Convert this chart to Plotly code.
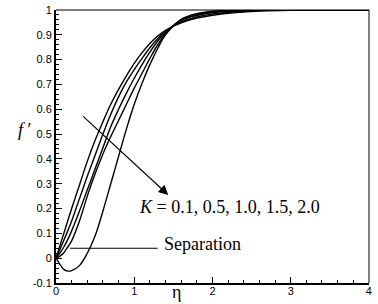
import plotly.graph_objects as go

eta = [0, 0.05, 0.1, 0.15, 0.2, 0.3, 0.4, 0.5, 0.6, 0.7, 0.8, 0.9, 1.0, 1.1, 1.2,
       1.3, 1.4, 1.6, 1.8, 2.0, 2.3, 2.6, 3.0, 4.0]
K_values = ["0.1", "0.5", "1.0", "1.5", "2.0"]
f_K01 = [0, 0.05, 0.1, 0.15, 0.2, 0.295, 0.39, 0.475, 0.55, 0.62, 0.68, 0.735, 0.785,
         0.828, 0.865, 0.895, 0.918, 0.948, 0.967, 0.979, 0.99, 0.996, 0.999, 1.0]
f_K05 = [0, 0.035, 0.072, 0.11, 0.15, 0.24, 0.33, 0.415, 0.5, 0.58, 0.65, 0.71, 0.76,
         0.805, 0.848, 0.885, 0.915, 0.952, 0.972, 0.984, 0.993, 0.998, 1.0, 1.0]
f_K10 = [0, 0.02, 0.045, 0.075, 0.11, 0.19, 0.275, 0.36, 0.445, 0.53, 0.6, 0.665, 0.725,
         0.78, 0.83, 0.875, 0.91, 0.958, 0.978, 0.99, 0.996, 0.999, 1.0, 1.0]
f_K15 = [0, 0.008, 0.022, 0.045, 0.07, 0.15, 0.25, 0.34, 0.42, 0.49, 0.555, 0.62, 0.685,
         0.745, 0.805, 0.86, 0.905, 0.96, 0.982, 0.993, 0.998, 1.0, 1.0, 1.0]
f_K20 = [0, -0.025, -0.045, -0.052, -0.05, -0.03, 0.02, 0.09, 0.19, 0.3, 0.41, 0.52, 0.62,
         0.705, 0.78, 0.845, 0.9, 0.962, 0.985, 0.995, 0.999, 1.0, 1.0, 1.0]
curves = [f_K01, f_K05, f_K10, f_K15, f_K20]

x_ticks = [0, 1, 2, 3, 4]
y_ticks = [-0.1, 0, 0.1, 0.2, 0.3, 0.4, 0.5, 0.6, 0.7, 0.8, 0.9, 1.0]
y_tick_labels = ["-0.1", "0", "0.1", "0.2", "0.3", "0.4", "0.5", "0.6", "0.7", "0.8", "0.9", "1"]

arrow_start = (0.328, 0.577)
arrow_end = (1.435, 0.255)
sep_line_x = [0.18, 1.30]
sep_line_y = 0.04

fig = go.Figure()
for k, f in zip(K_values, curves):
    fig.add_trace(go.Scatter(x=eta, y=f, mode="lines", name="K=" + k,
                             line=dict(color="black", width=1.4, shape="spline", smoothing=1.0),
                             showlegend=False, hoverinfo="skip"))

serif = "Liberation Serif, Times New Roman, serif"
sans = "Liberation Sans, Arial, sans-serif"

L, R, T, B = 56, 9, 10, 21
W, H = 378, 304

fig.update_layout(
    width=W, height=H,
    margin=dict(l=L, r=R, t=T, b=B, pad=0),
    paper_bgcolor="white", plot_bgcolor="white",
    xaxis=dict(range=[0, 4.001], tickvals=x_ticks, ticktext=[str(v) for v in x_ticks],
               ticks="inside", ticklen=6, tickwidth=1, tickcolor="black",
               showline=True, linewidth=2, linecolor="black", mirror=False,
               showgrid=False, zeroline=False, automargin=False,
               ticklabeloverflow="allow", ticklabelstandoff=-3,
               tickfont=dict(family=sans, size=11, color="black"),
               minor=dict(dtick=0.2, ticks="inside", ticklen=3, tickcolor="black", showgrid=False)),
    yaxis=dict(range=[-0.1, 1.0], tickvals=y_ticks, ticktext=y_tick_labels,
               ticks="inside", ticklen=6, tickwidth=1, tickcolor="black",
               showline=True, linewidth=2, linecolor="black", mirror=False,
               showgrid=False, zeroline=False, automargin=False,
               ticklabeloverflow="allow",
               tickfont=dict(family=sans, size=11, color="black"),
               minor=dict(dtick=0.02, ticks="inside", ticklen=3, tickcolor="black", showgrid=False)),
)

# top and right frame lines
fig.add_shape(type="line", xref="paper", yref="paper", x0=0, x1=1, y0=1, y1=1,
              line=dict(color="black", width=1))
fig.add_shape(type="line", xref="paper", yref="paper", x0=1, x1=1, y0=0, y1=1,
              line=dict(color="black", width=1))

# separation line
fig.add_shape(type="line", xref="x", yref="y", x0=sep_line_x[0], x1=sep_line_x[1],
              y0=sep_line_y, y1=sep_line_y, line=dict(color="black", width=1))

fig.add_annotation(x=arrow_end[0], y=arrow_end[1], ax=arrow_start[0], ay=arrow_start[1],
                   xref="x", yref="y", axref="x", ayref="y", text="", showarrow=True,
                   arrowhead=2, arrowsize=1.6, arrowwidth=1.2, arrowcolor="black")

fig.add_annotation(x=1.03, y=0.208, xref="x", yref="y", xanchor="left", yanchor="middle",
                   text="<i>K</i> = " + ", ".join(K_values), showarrow=False,
                   font=dict(family=serif, size=18, color="black"))
fig.add_annotation(x=1.35, y=sep_line_y + 0.016, xref="x", yref="y", xanchor="left", yanchor="middle",
                   text="Separation", showarrow=False,
                   font=dict(family=serif, size=18, color="black"))


def px_to_paper(px, py):
    return (px - L) / (W - L - R), 1 - (py - T) / (H - T - B)


fx, fy = px_to_paper(16, 130)
fig.add_annotation(x=fx, y=fy, xref="paper", yref="paper", text="<i>f</i> ′", showarrow=False,
                   font=dict(family=serif, size=18, color="black"))
ex, ey = px_to_paper(176, 304)
fig.add_annotation(x=ex, y=ey, xref="paper", yref="paper", yanchor="bottom", text="η",
                   showarrow=False, font=dict(family=serif, size=18, color="black"))

fig.write_html("out.html", config={"displayModeBar": False},
               post_script="document.body.style.margin='0';document.body.style.overflow='hidden';")
